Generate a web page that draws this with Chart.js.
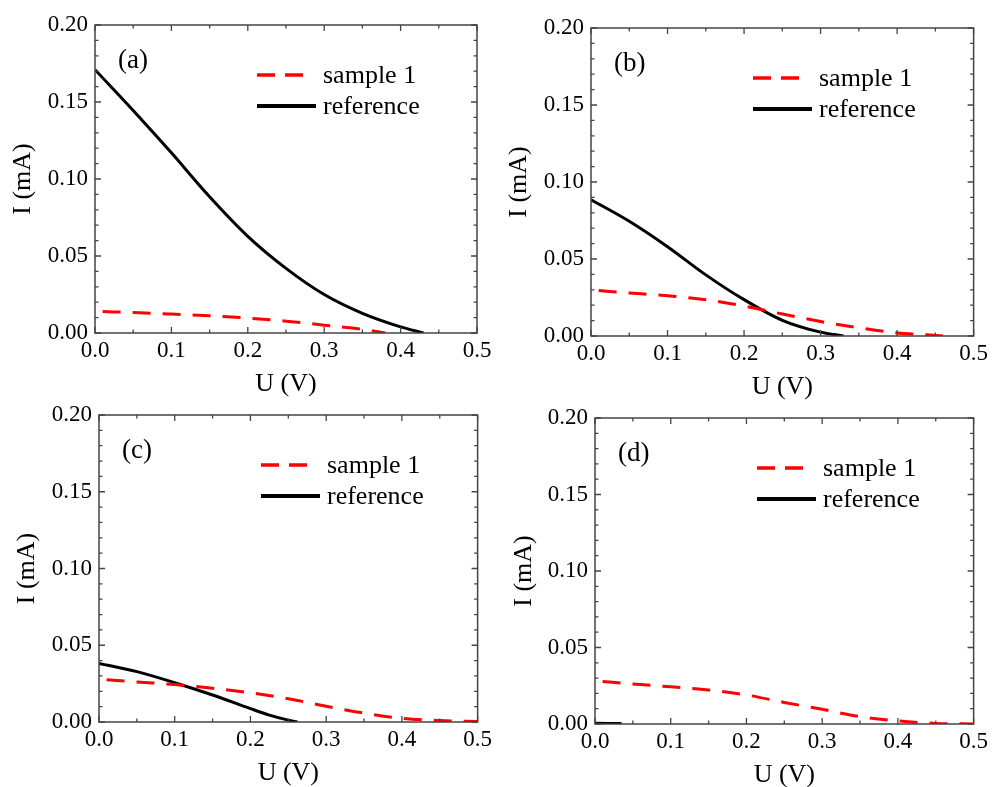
<!DOCTYPE html>
<html>
<head>
<meta charset="utf-8">
<script src="https://cdn.jsdelivr.net/npm/chart.js@4.4.1/dist/chart.umd.min.js"></script>
<style>
	html, body { margin: 0; padding: 0; background: #fff; overflow: hidden; }
	body { width: 992px; height: 787px; position: relative; }
	canvas { position: absolute; }
</style>
</head>
<body>
<canvas id="chart-a" width="496" height="404" style="left:0;top:0"></canvas>
<canvas id="chart-b" width="496" height="404" style="left:496px;top:0"></canvas>
<canvas id="chart-c" width="496" height="404" style="left:0;top:388px"></canvas>
<canvas id="chart-d" width="496" height="404" style="left:496px;top:388px"></canvas>
<script>
// axis ticks
const xTicksMajor = [0, 0.1, 0.2, 0.3, 0.4, 0.5];
const yTicksMajor = [0, 0.05, 0.1, 0.15, 0.2];
const xMinorStep = 0.05;
const yMinorStep = 0.01;
const seriesNames = ['sample 1', 'reference'];

// (a)
const sampleUA = [0.01, 0.05, 0.1, 0.15, 0.2, 0.25, 0.3, 0.35, 0.38];
const sampleIA = [0.0139, 0.0133, 0.0123, 0.0112, 0.0097, 0.0077, 0.0051, 0.0024, 0.0];
const refUA = [0, 0.05, 0.1, 0.15, 0.2, 0.25, 0.3, 0.35, 0.4, 0.43];
const refIA = [0.171, 0.1445, 0.117, 0.0885, 0.0628, 0.0420, 0.0250, 0.0128, 0.0040, 0.0];

// (b)
const sampleUB = [0.01, 0.05, 0.1, 0.15, 0.2, 0.25, 0.3, 0.35, 0.4, 0.45, 0.46];
const sampleIB = [0.0295, 0.0280, 0.0261, 0.0236, 0.0195, 0.0143, 0.0094, 0.0053, 0.0020, 0.0004, 0.0];
const refUB = [0, 0.05, 0.1, 0.15, 0.2, 0.25, 0.3, 0.33];
const refIB = [0.0885, 0.0745, 0.058, 0.0397, 0.0236, 0.0102, 0.0025, 0.0];

// (c)
const sampleUC = [0.01, 0.05, 0.1, 0.15, 0.2, 0.25, 0.3, 0.35, 0.4, 0.45, 0.5];
const sampleIC = [0.0276, 0.0261, 0.0244, 0.0220, 0.0190, 0.0152, 0.0102, 0.0058, 0.0024, 0.0009, 0.0004];
const refUC = [0, 0.05, 0.1, 0.15, 0.2, 0.225, 0.25, 0.262];
const refIC = [0.0382, 0.0328, 0.0256, 0.0176, 0.0087, 0.0045, 0.0012, 0.0];

// (d)
const sampleUD = [0.01, 0.05, 0.1, 0.15, 0.2, 0.25, 0.3, 0.35, 0.4, 0.45, 0.5];
const sampleID = [0.0277, 0.0262, 0.0243, 0.0222, 0.0190, 0.0141, 0.0096, 0.0048, 0.0020, 0.0004, 0.0];
const refUD = [0, 0.035];
const refID = [0.0005, 0.0003];

Chart.defaults.font.family = '"Liberation Serif", "Times New Roman", serif';
Chart.defaults.color = '#000';

function toPoints(us, is) {
	return us.map((u, i) => ({ x: u, y: is[i] }));
}

const panelFrame = {
	id: 'panelFrame',
	afterDraw(chart, args, opts) {
		const { ctx, chartArea } = chart;
		const { left, top, right, bottom } = chartArea;
		const x = chart.scales.x;
		const y = chart.scales.y;
		ctx.save();

		// box
		ctx.strokeStyle = '#444';
		ctx.lineWidth = 1.5;
		ctx.strokeRect(left, top, right - left, bottom - top);

		// inward ticks on all four sides
		ctx.lineWidth = 1.3;
		ctx.beginPath();
		const nx = Math.round((x.max - x.min) / xMinorStep);
		for (let i = 0; i <= nx; i++) {
			const v = x.min + i * xMinorStep;
			const len = i % 2 === 0 ? 6 : 3.5;
			const px = x.getPixelForValue(v);
			ctx.moveTo(px, bottom);
			ctx.lineTo(px, bottom - len);
			ctx.moveTo(px, top);
			ctx.lineTo(px, top + len);
		}
		const ny = Math.round((y.max - y.min) / yMinorStep);
		for (let i = 0; i <= ny; i++) {
			const v = y.min + i * yMinorStep;
			const len = i % 5 === 0 ? 6 : 3.5;
			const py = y.getPixelForValue(v);
			ctx.moveTo(left, py);
			ctx.lineTo(left + len, py);
			ctx.moveTo(right, py);
			ctx.lineTo(right - len, py);
		}
		ctx.stroke();

		// panel label
		ctx.fillStyle = '#000';
		ctx.textBaseline = 'middle';
		ctx.textAlign = 'left';
		ctx.font = '27px "Liberation Serif", serif';
		ctx.fillText(opts.label, left + 23, top + 36);

		// legend
		ctx.font = '26px "Liberation Serif", serif';
		const rows = [top + 50, top + 81];
		chart.data.datasets.forEach((ds, i) => {
			const ly = rows[i];
			ctx.beginPath();
			ctx.strokeStyle = ds.borderColor;
			ctx.lineWidth = i === 0 ? 3.5 : 4;
			ctx.setLineDash(i === 0 ? [18, 10] : []);
			ctx.moveTo(left + 162, ly);
			ctx.lineTo(left + (i === 0 ? 208 : 221), ly);
			ctx.stroke();
			ctx.setLineDash([]);
			ctx.fillText(ds.label, left + 228, ly + 1);
		});
		ctx.restore();
	}
};

function makePanel(id, label, box, area, yTitleX, xTitleY, sample, reference) {
	const yWidth = area.l - box.left;
	const xHeight = box.top + box.height - area.b;
	return new Chart(document.getElementById(id), {
		type: 'line',
		data: {
			datasets: [
				{
					label: seriesNames[0],
					data: sample,
					borderColor: '#ff0000',
					borderWidth: 3,
					borderDash: [18, 12],
					pointRadius: 0,
					cubicInterpolationMode: 'monotone',
					fill: false
				},
				{
					label: seriesNames[1],
					data: reference,
					borderColor: '#000000',
					borderWidth: 3,
					pointRadius: 0,
					cubicInterpolationMode: 'monotone',
					fill: false
				}
			]
		},
		options: {
			responsive: false,
			animation: false,
			layout: {
				padding: {
					left: 0,
					top: area.t - box.top,
					right: box.left + box.width - area.r,
					bottom: 0
				}
			},
			plugins: {
				legend: { display: false },
				tooltip: { enabled: false },
				panelFrame: { label }
			},
			scales: {
				x: {
					type: 'linear',
					min: 0,
					max: 0.5,
					grid: { display: false, drawTicks: false },
					border: { display: false },
					afterFit: function(scale) { scale.height = xHeight; },
					afterBuildTicks: function(scale) { scale.ticks = xTicksMajor.map(v => ({ value: v })); },
					ticks: {
						autoSkip: false,
						maxRotation: 0,
						padding: 4,
						font: { size: 23 },
						callback: function(value) { return Number(value).toFixed(1); }
					},
					title: {
						display: true,
						text: 'U (V)',
						font: { size: 26 },
						padding: { top: 0, bottom: box.top + box.height - 15.6 - xTitleY }
					}
				},
				y: {
					type: 'linear',
					min: 0,
					max: 0.2,
					grid: { display: false, drawTicks: false },
					border: { display: false },
					afterFit: function(scale) { scale.width = yWidth; },
					afterBuildTicks: function(scale) { scale.ticks = yTicksMajor.map(v => ({ value: v })); },
					ticks: {
						autoSkip: false,
						padding: 7,
						font: { size: 23 },
						callback: function(value) { return Number(value).toFixed(2); }
					},
					title: {
						display: true,
						text: 'I (mA)',
						font: { size: 26 },
						padding: { top: yTitleX - 15.6, bottom: 0 }
					}
				}
			}
		},
		plugins: [panelFrame]
	});
}

makePanel('chart-a', '(a)',
	{ left: 0, top: 0, width: 496, height: 404 },
	{ l: 95, t: 25, r: 477, b: 333 }, 23, 384.5,
	toPoints(sampleUA, sampleIA), toPoints(refUA, refIA));

makePanel('chart-b', '(b)',
	{ left: 496, top: 0, width: 496, height: 404 },
	{ l: 591, t: 28, r: 974, b: 336 }, 23, 387.5,
	toPoints(sampleUB, sampleIB), toPoints(refUB, refIB));

makePanel('chart-c', '(c)',
	{ left: 0, top: 388, width: 496, height: 404 },
	{ l: 99, t: 415, r: 481, b: 722 }, 27.5, 773.5,
	toPoints(sampleUC, sampleIC), toPoints(refUC, refIC));

makePanel('chart-d', '(d)',
	{ left: 496, top: 388, width: 496, height: 404 },
	{ l: 595, t: 418, r: 978, b: 724 }, 28.5, 775.5,
	toPoints(sampleUD, sampleID), toPoints(refUD, refID));
</script>
</body>
</html>
